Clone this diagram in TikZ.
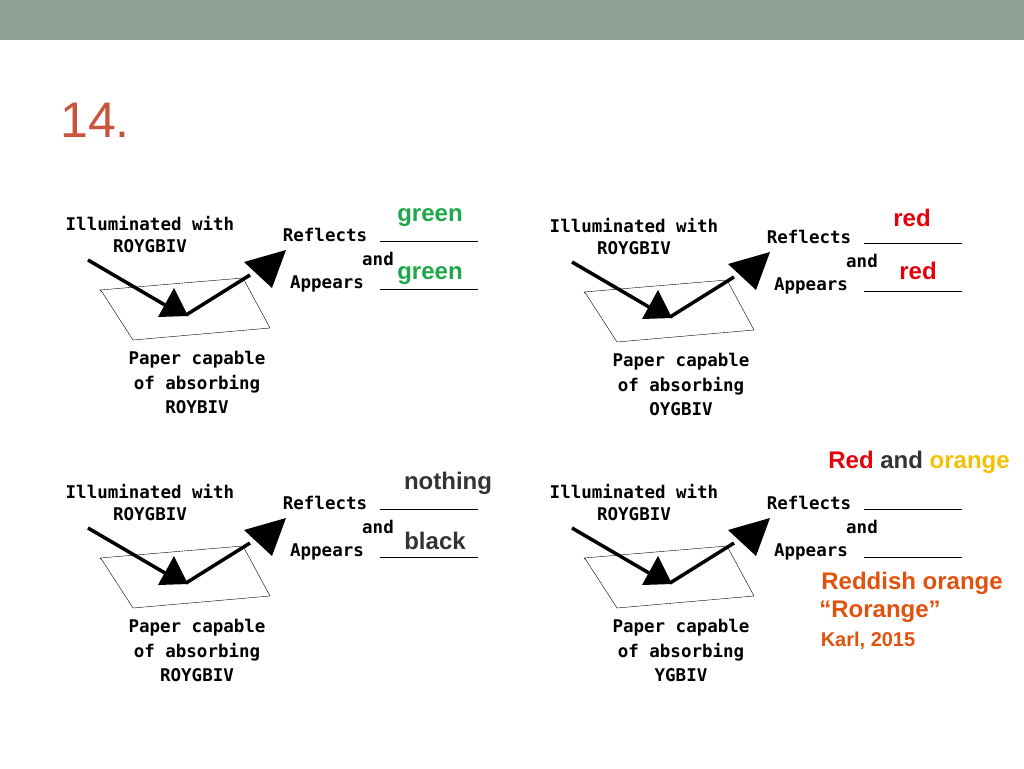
\documentclass[tikz,border=0pt]{standalone}
\usepackage{fontspec}
\setmainfont{Liberation Sans}
\newfontfamily\pixfont{DejaVu Sans Mono}
\begin{document}
\definecolor{bar}{HTML}{8FA097}
\definecolor{ttl}{HTML}{C9533B}
\definecolor{grn}{HTML}{1FA84A}
\definecolor{rdd}{HTML}{E8000B}
\definecolor{drk}{HTML}{333333}
\definecolor{org}{HTML}{F5C000}
\definecolor{rorg}{HTML}{E2520F}
\newcommand{\mypanel}[4]{%
\begin{scope}[shift={(#1,#2)}]
\node[lbl] (ill#4) at (150,224) {Illuminated with};
\node[lbl] (ray#4) at (150,246) {ROYGBIV};
\draw[thin] (102,292) -- (100,290) -- (243,278) -- (270,328) -- (133,340) -- cycle;
\coordinate (s#4) at (88,260);
\coordinate (b#4) at (186,315);
\coordinate (e#4) at (250,275);
\draw[line width=3.5pt] (s#4) -- (165,305);
\fill (158,317) -- (188,316) -- (174,288) -- cycle;
\draw[line width=3.5pt] (b#4) -- (e#4);
\fill (244,262) -- (272,288) -- (286,250) -- cycle;
\node[lbl] (p1#4) at (197,360) {Paper capable};
\node[lbl] (p2#4) at (197,384) {of absorbing};
\node[lbl] (p3#4) at (197,407) {#3};
\node[lbl] (rf#4) at (325,235) {Reflects};
\draw[thick] (380,241) -- (478,241);
\node[lbl] (an#4) at (378,259) {and};
\node[lbl] (ap#4) at (327,284) {Appears};
\draw[thick] (380,289) -- (478,289);
\end{scope}}
\begin{tikzpicture}[x=1pt,y=-1pt,lbl/.style={font=\pixfont\fontsize{17.5}{17.5}\bfseries\selectfont,inner sep=0pt},
ans/.style={font=\fontsize{24}{24}\bfseries\selectfont,inner sep=0pt}]
\useasboundingbox (0,0) rectangle (1024,768);
\fill[white] (0,0) rectangle (1024,768);
\fill[bar] (0,0) rectangle (1024,40);
\node[text=ttl,font=\fontsize{50}{50}\selectfont,anchor=west,inner sep=0pt] (title) at (60,120) {14.};
\mypanel{0}{0}{ROYBIV}{a}
\mypanel{484}{2}{OYGBIV}{b}
\mypanel{0}{268}{ROYGBIV}{c}
\mypanel{484}{268}{YGBIV}{d}
\node[ans,text=grn] (g1) at (430,218) {green};
\node[ans,text=grn] (g2) at (430,276) {green};
\node[ans,text=rdd] (r1) at (912,218) {red};
\node[ans,text=rdd] (r2) at (918,271) {red};
\node[ans,text=drk] (n1) at (448,483) {nothing};
\node[ans,text=drk] (k1) at (435,541) {black};
\node[ans] (ro) at (919,462) {\textcolor{rdd}{Red} \textcolor{drk}{and} \textcolor{org}{orange}};
\node[ans,text=rorg] (ro1) at (912,583) {Reddish orange};
\node[ans,text=rorg] (ro2) at (880,612) {“Rorange”};
\node[font=\fontsize{20}{20}\bfseries\selectfont,inner sep=0pt,text=rorg] (ro3) at (868,641) {Karl, 2015};
\end{tikzpicture}
\end{document}
